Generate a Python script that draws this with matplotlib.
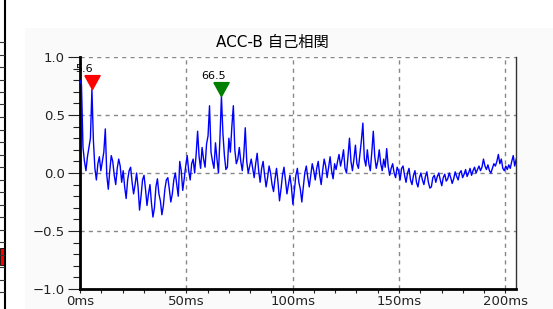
import numpy as np
import matplotlib
matplotlib.use("Agg")
import matplotlib.pyplot as plt
from matplotlib.ticker import MultipleLocator, FixedLocator
from matplotlib.patches import Rectangle
from matplotlib.lines import Line2D

plt.rcParams["font.family"] = ["DejaVu Sans", "Noto Sans CJK JP"]

# autocorrelation of ACC-B, one sample every 0.7 ms
step_ms = 0.7
acf = [
    0.80, 0.76, 0.22, 0.10, 0.02, 0.14, 0.22, 0.30, 0.72, 0.28,
    0.04, -0.06, 0.08, 0.14, 0.02, 0.10, 0.18, 0.38, -0.02, -0.14,
    0.02, 0.15, 0.10, -0.02, -0.10, 0.04, 0.12, 0.06, -0.08, 0.02,
    -0.12, -0.22, -0.06, 0.02, 0.05, -0.08, -0.18, -0.10, 0.00, -0.12,
    -0.32, -0.20, -0.06, -0.02, -0.14, -0.28, -0.18, -0.10, -0.26, -0.38,
    -0.30, -0.12, -0.05, -0.18, -0.24, -0.36, -0.28, -0.14, -0.06, -0.04,
    -0.14, -0.25, -0.18, -0.06, 0.00, -0.10, -0.20, 0.10, 0.02, -0.15,
    -0.05, 0.06, 0.15, 0.02, -0.06, 0.08, 0.12, 0.00, 0.16, 0.36,
    0.14, 0.04, 0.22, 0.12, 0.05, 0.25, 0.32, 0.58, 0.18, 0.10,
    0.04, 0.26, 0.12, 0.00, 0.30, 0.66, 0.34, 0.15, 0.03, 0.05,
    0.30, 0.18, 0.40, 0.58, 0.20, 0.08, 0.12, 0.22, 0.10, 0.02,
    0.15, 0.39, 0.10, 0.00, 0.06, 0.12, 0.04, -0.04, 0.08, 0.17,
    0.02, -0.08, 0.04, 0.10, -0.02, -0.12, -0.04, 0.06, 0.00, -0.10,
    -0.16, -0.05, 0.04, -0.08, -0.24, -0.14, -0.02, 0.05, -0.06, -0.18,
    -0.10, -0.02, -0.12, -0.27, -0.15, -0.02, 0.04, -0.08, -0.14, -0.25,
    -0.12, 0.00, 0.06, -0.04, -0.12, -0.02, 0.08, 0.02, -0.06, 0.04,
    0.10, -0.02, -0.10, 0.02, 0.12, 0.06, -0.04, 0.05, 0.14, 0.02,
    -0.05, 0.08, 0.03, 0.10, 0.16, 0.06, 0.12, 0.20, 0.04, 0.00,
    0.14, 0.30, 0.10, 0.02, 0.12, 0.24, 0.08, 0.04, 0.16, 0.28,
    0.43, 0.12, 0.06, 0.20, 0.08, 0.02, 0.18, 0.36, 0.14, 0.04,
    0.10, 0.20, 0.08, 0.02, 0.12, 0.05, 0.21, 0.06, -0.02, 0.04,
    0.08, 0.00, -0.04, 0.05, 0.02, -0.06, 0.04, 0.06, -0.02, -0.08,
    0.00, 0.04, -0.06, -0.10, -0.02, 0.02, -0.08, -0.12, -0.04, 0.00,
    -0.06, -0.10, -0.03, 0.01, -0.08, -0.13, -0.12, -0.04, -0.02, -0.08,
    -0.03, 0.00, -0.06, -0.11, -0.04, -0.01, -0.07, -0.05, 0.00, -0.04,
    -0.09, -0.05, 0.01, -0.03, -0.06, 0.00, 0.02, -0.04, -0.01, 0.03,
    -0.03, 0.00, 0.04, -0.02, 0.02, 0.05, 0.00, 0.03, 0.06, 0.02,
    0.05, 0.12, 0.06, 0.03, 0.07, 0.02, 0.00, 0.04, 0.08, 0.06,
    0.10, 0.16, 0.08, 0.12, 0.04, 0.02, 0.06, 0.03, 0.07, 0.04,
    0.10, 0.15, 0.06, 0.12,
]
lag = np.arange(len(acf)) * step_ms

peak_lags = [5.6, 66.5]
peak_colors = ["#ff0000", "#008000"]

x_ticks = [0, 50, 100, 150, 200]
x_labels = ["0ms", "50ms", "100ms", "150ms", "200ms"]
y_ticks = [-1.0, -0.5, 0.0, 0.5, 1.0]

W, H = 553, 309
fig = plt.figure(figsize=(W / 100, H / 100), dpi=100)

# light window background and the neighbouring panel's frame on the left
fig.patches.append(Rectangle((25 / W, 0), 1, 1 - 28 / H, transform=fig.transFigure,
                             facecolor="#fafafa", edgecolor="none", zorder=-5))
fig.lines.append(Line2D([5 / W, 5 / W], [0, 1], transform=fig.transFigure,
                        color="black", lw=1.5))
for yy in np.arange(42, 300, 12.5):
    fig.lines.append(Line2D([0, 4 / W], [1 - yy / H, 1 - yy / H],
                            transform=fig.transFigure, color="#333333", lw=0.8))
fig.patches.append(Rectangle((0, 1 - 265 / H), 3.5 / W, 17 / H, transform=fig.transFigure,
                             facecolor="#ff0000", edgecolor="black", lw=0.6))

ax = fig.add_axes([80 / W, 1 - 289 / H, (516 - 80) / W, (289 - 57) / H])
ax.set_facecolor("white")

ax.plot(lag, acf, color="#0000ff", lw=1.0, zorder=3)

tri = [(-0.55, 1.0), (0.55, 1.0), (0.0, 0.0), (-0.55, 1.0)]
for p, c in zip(peak_lags, peak_colors):
    i = int(round(p / step_ms))
    ax.plot([lag[i]], [acf[i]], marker=tri, markersize=20, color=c,
            markeredgecolor=c, ls="none", zorder=4, clip_on=False)
    ax.annotate(f"{p}", (lag[i], acf[i]), xytext=(-6, 11), textcoords="offset points",
                ha="center", va="bottom", fontsize=8, color="black", zorder=5)

ax.set_xlim(0, 205)
ax.set_ylim(-1.0, 1.0)
ax.xaxis.set_major_locator(FixedLocator(x_ticks))
ax.set_xticklabels(x_labels)
ax.xaxis.set_minor_locator(MultipleLocator(10))
ax.yaxis.set_major_locator(FixedLocator(y_ticks))
ax.set_yticklabels([f"{v:.1f}".replace("-", "\u2212") for v in y_ticks])
ax.yaxis.set_minor_locator(MultipleLocator(0.1))

ax.tick_params(axis="y", which="major", length=9, width=0.8, pad=2,
               labelsize=9.5, colors="#222222")
ax.tick_params(axis="y", which="minor", length=5, width=0.8, colors="#222222")
ax.tick_params(axis="x", which="major", length=3, width=0.8, pad=1.2,
               labelsize=9.5, colors="#222222")
ax.tick_params(axis="x", which="minor", length=3, width=0.8, colors="#222222")

ax.grid(True, which="major", color="#888888", ls=(0, (3, 3)), lw=1.0, zorder=1)

ax.spines["top"].set_visible(False)
ax.spines["left"].set_linewidth(2.0)
ax.spines["bottom"].set_linewidth(2.0)
ax.spines["right"].set_linewidth(1.0)
ax.spines["right"].set_color("#333333")

fig.text(272 / W, 1 - 42 / H, "ACC-B 自己相関", ha="center", va="center",
         fontsize=11, family=["DejaVu Sans", "Noto Sans CJK JP"])

fig.savefig("out.png", dpi=100)
